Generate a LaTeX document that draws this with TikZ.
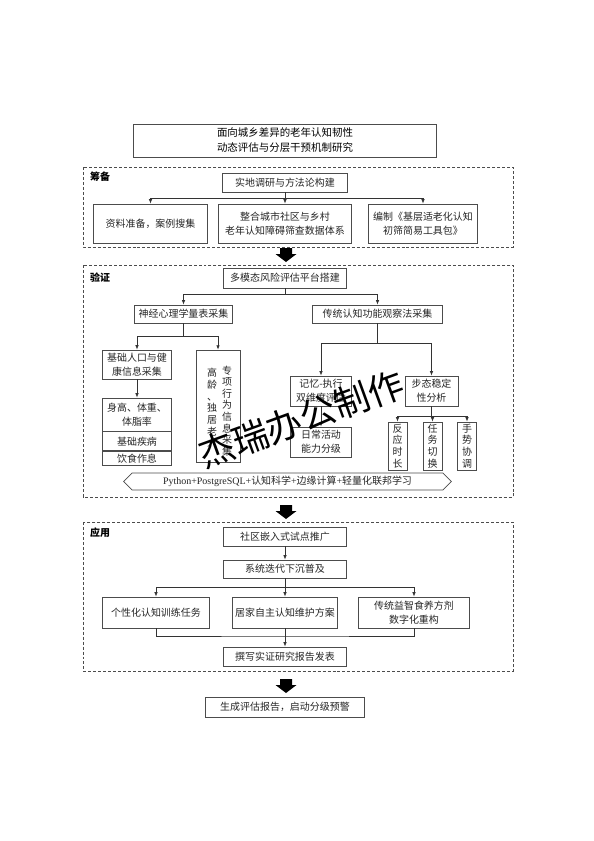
\documentclass[tikz,border=0pt]{standalone}
\usepackage{fontspec}
\setmainfont{Liberation Serif}
\newfontfamily\cjk{Noto Sans CJK SC}
\usetikzlibrary{arrows.meta,positioning,calc,shapes.symbols}

\begin{document}
\begin{tikzpicture}[
  x=1bp, y=-1bp,
  >={Latex[length=4.5pt,width=3.5pt]},
  box/.style={draw=black!70, line width=0.8pt, fill=white, align=center, inner sep=1pt, text=black!85, font=\cjk\fontsize{10}{14}\selectfont},
  vtext/.style={align=center, inner sep=0pt, text=black!85, font=\cjk\fontsize{10}{11.7}\selectfont},
  vbox/.style={box, font=\cjk\fontsize{10}{11.7}\selectfont},
  frame/.style={draw=black!70, line width=0.8pt, dash pattern=on 3pt off 2pt},
  stage/.style={anchor=west, inner sep=0pt, font=\cjk\bfseries\fontsize{10}{12}\selectfont},
  link/.style={draw=black!80, line width=0.8pt},
  wh/.style 2 args={minimum width=#1, minimum height=#2}
]
\useasboundingbox (0,0) rectangle (594,841);

% title
\node[box, wh={304}{33}, text=black, font=\cjk\fontsize{10.5}{15}\selectfont] (title) at (285,140.5) {面向城乡差异的老年认知韧性\\动态评估与分层干预机制研究};

% stage frames
\draw[frame] (83,167) rectangle (513,247);
\draw[frame] (83,265) rectangle (513,497);
\draw[frame] (83,522) rectangle (513,671);
\node[stage] (prepare) at (90,177) {筹备};
\node[stage] (verify) at (90,278) {验证};
\node[stage] (apply) at (90,533) {应用};

% stage 1
\node[box, wh={125}{19}] (survey) at (285,182.5) {实地调研与方法论构建};
\node[box, wh={115}{39}] (collect) at (150.5,223.5) {资料准备，案例搜集};
\node[box, wh={134}{39}] (integrate) at (285,223.5) {整合城市社区与乡村\\老年认知障碍筛查数据体系};
\node[box, wh={110}{39}] (toolkit) at (423,223.5) {编制《基层适老化认知\\初筛简易工具包》};
\coordinate (j1) at (285,198);
\draw[link] (survey) -- (j1);
\foreach \n in {collect,integrate,toolkit} \draw[link,->] (j1) -| (\n.north);

% stage 2
\node[box, wh={124}{20}] (platform) at (285,278) {多模态风险评估平台搭建};
\node[box, wh={99}{18}] (neuro) at (183.5,314) {神经心理学量表采集};
\node[box, wh={131}{18}] (observe) at (377.5,314) {传统认知功能观察法采集};
\coordinate (j2) at (285,294);
\draw[link] (platform) -- (j2);
\foreach \n in {neuro,observe} \draw[link,->] (j2) -| (\n.north);

\node[box, wh={70}{29}] (basic) at (137,364.5) {基础人口与健\\康信息采集};
\node[box, wh={44}{113}] (special) at (218,406.5) {};
\node[vtext] (specA) at (227,411) {专\\项\\行\\为\\信\\息\\采\\集};
\node[vtext] (specB) at (212,408) {高\\龄\\、\\独\\居\\老\\人};
\coordinate (j3) at (183.5,336);
\draw[link] (neuro) -- (j3);
\foreach \n in {basic,special} \draw[link,->] (j3) -| (\n.north);

\node[box, wh={70}{33}] (body) at (137,414.5) {身高、体重、\\体脂率};
\node[box, wh={70}{19}, below=0pt of body] (disease) {基础疾病};
\node[box, wh={70}{14}, below=0pt of disease] (routine) {饮食作息};
\draw[link,->] (basic) -- (body);

\node[box, wh={62}{30}] (memory) at (321,391) {记忆-执行\\双维度评估};
\node[box, wh={62}{30}] (daily) at (321,442) {日常活动\\能力分级};
\node[box, wh={53}{30}] (gait) at (431.5,391) {步态稳定\\性分析};
\coordinate (j4) at (377.5,343);
\draw[link] (observe) -- (j4);
\foreach \n in {memory,gait} \draw[link,->] (j4) -| (\n.north);
\draw[link,->] (memory) -- (daily);

\coordinate (j5) at (431.5,416);
\draw[link] (gait) -- (j5);
\foreach \n/\x/\t in {react/397.5/{反\\应\\时\\长},switch/432.5/{任\\务\\切\\换},gesture/467/{手\\势\\协\\调}} {
  \node[vbox, wh={19}{48}] (\n) at (\x,446) {\t};
  \draw[link,->] (j5) -| (\n.north);
}

\node[box, signal, signal to=west and east, wh={329}{17}, inner sep=0pt] (tech) at (287.5,481.5) {\textrm{Python+PostgreSQL+}认知科学\textrm{+}边缘计算\textrm{+}轻量化联邦学习};

% stage 3
\node[box, wh={124}{19}] (pilot) at (285,536.5) {社区嵌入式试点推广};
\node[box, wh={124}{18}] (iterate) at (285,569) {系统迭代下沉普及};
\draw[link,->] (pilot) -- (iterate);
\node[box, wh={108}{31}] (train) at (156,612.5) {个性化认知训练任务};
\node[box, wh={106}{31}] (home) at (285,612.5) {居家自主认知维护方案};
\node[box, wh={112}{31}] (food) at (414,612.5) {传统益智食养方剂\\数字化重构};
\coordinate (j6) at (285,587);
\draw[link] (iterate) -- (j6);
\foreach \n in {train,home,food} \draw[link,->] (j6) -| (\n.north);
\node[box, wh={124}{19}] (paper) at (285,656.5) {撰写实证研究报告发表};
\coordinate (j7) at (285,636);
\draw[link] (train) |- (j7) -| (food);
\draw[link,->] (home) -- (paper);

% result
\node[box, wh={160}{20}] (report) at (285,707) {生成评估报告，启动分级预警};

% block arrows between stages
\foreach \y in {248,505,679}
  \fill[black] (280,\y) -- (292,\y) -- (292,\y+6) -- (296.5,\y+6) -- (286,\y+14) -- (275.5,\y+6) -- (280,\y+6) -- cycle;

% watermark
\node[rotate=20, font=\cjk\fontsize{36}{36}\selectfont] (mark) at (301,419) {杰瑞办公制作};

\end{tikzpicture}
\end{document}
